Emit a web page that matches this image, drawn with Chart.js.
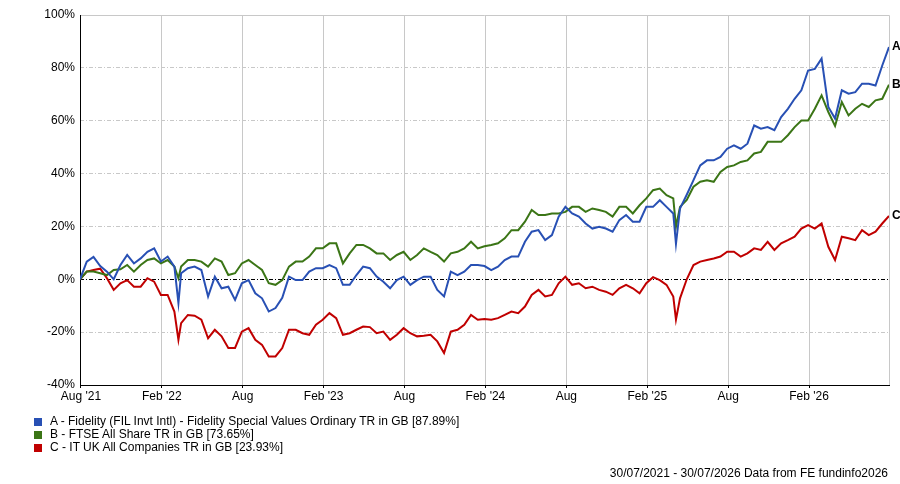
<!DOCTYPE html>
<html>
<head>
<meta charset="utf-8">
<script src="https://cdn.jsdelivr.net/npm/chart.js@4/dist/chart.umd.min.js"></script>
<style>
  body { margin: 0; background: #fff; font-family: "Liberation Sans", Arial, sans-serif; }
  #wrap { position: relative; width: 900px; height: 484px; }
  #chart { position: absolute; left: 0; top: 0; }
  .leg { position: absolute; left: 34px; font-size: 12px; line-height: 13px; color: #000; white-space: nowrap; }
  .leg span { display: inline-block; width: 8px; height: 8px; margin-right: 8px; vertical-align: -1px; }
  #foot { position: absolute; right: 12px; top: 467px; font-size: 12px; line-height: 13px; color: #000; }
</style>
</head>
<body>
<div id="wrap">
  <canvas id="chart" width="900" height="484"></canvas>
  <div class="leg" style="top:415px"><span style="background:#2850b4"></span>A - Fidelity (FIL Invt Intl) - Fidelity Special Values Ordinary TR in GB [87.89%]</div>
  <div class="leg" style="top:428px"><span style="background:#3b7516"></span>B - FTSE All Share TR in GB [73.65%]</div>
  <div class="leg" style="top:441px"><span style="background:#c00000"></span>C - IT UK All Companies TR in GB [23.93%]</div>
  <div id="foot">30/07/2021 - 30/07/2026 Data from FE fundinfo2026</div>
</div>
<script>
// months since 30/07/2021
const months = [
  0, 0.5, 1, 1.5, 2, 2.5, 3, 3.5, 4, 4.5, 5, 5.5,
  6, 6.5, 7, 7.3, 7.5, 8, 8.5, 9, 9.5, 10, 10.5, 11, 11.5,
  12, 12.5, 13, 13.5, 14, 14.5, 15, 15.5, 16, 16.5, 17, 17.5,
  18, 18.5, 19, 19.5, 20, 20.5, 21, 21.5, 22, 22.5, 23, 23.5,
  24, 24.5, 25, 25.5, 26, 26.5, 27, 27.5, 28, 28.5, 29, 29.5,
  30, 30.5, 31, 31.5, 32, 32.5, 33, 33.5, 34, 34.5, 35, 35.5,
  36, 36.5, 37, 37.5, 38, 38.5, 39, 39.5, 40, 40.5, 41, 41.5,
  42, 42.5, 43, 43.5, 44, 44.2, 44.5, 45, 45.5, 46, 46.5, 47, 47.5,
  48, 48.5, 49, 49.5, 50, 50.5, 51, 51.5, 52, 52.5, 53, 53.5,
  54, 54.5, 55, 55.5, 56, 56.5, 57, 57.5, 58, 58.5, 59, 59.5,
  60
];

// A - Fidelity Special Values (%)
const seriesA = [
  0, 6.7, 8.5, 5, 2.9, 0, 5.4, 9.2, 6, 7.9, 10.4, 11.7,
  6.7, 8.6, 4.8, -9, 2.3, 4.2, 4.8, 3.5, -6.5, 1.0, -3.4, -2.8, -7.8,
  -1.5, -0.3, -5.3, -7.2, -12.2, -10.9, -7, 1.0, -0.3, -0.3, 2.9, 4.2,
  4.2, 5.4, 4.2, -2.1, -2.1, 1.6, 4.8, 4.2, 1.0, -0.9, -3.4, -0.3,
  1.0, -2.1, -0.3, 1.0, 1.0, -4.0, -6.5, 2.9, 1.6, 2.9, 5.4, 5.4,
  5, 3.5, 4.8, 7.3, 8.6, 8.6, 14.2, 18.0, 18.6, 14.8, 16.7, 23.7,
  27.4, 24.9, 23.7, 21.1, 19.2, 19.9, 19.2, 18.0, 22.4, 24.3, 21.8, 21.8,
  27.4, 27.4, 29.9, 27.4, 24.9, 13.4, 26.8, 32, 37.5, 43.1, 45.0, 45.0, 46.3,
  49.4, 50.7, 49.4, 51.3, 58.2, 57.0, 57.6, 56.4, 61.4, 64.5, 68.3, 71.5,
  79.0, 79.6, 83.5, 65.2, 60.8, 71.5, 70.2, 70.8, 74.0, 74.0, 73.3, 80.9,
  87.89
];

// B - FTSE All Share (%)
const seriesB = [
  0, 2.9, 2.9, 2.3, 1.6, 3.5, 3.8, 5.4, 2.9, 5.4, 7.3, 7.9,
  6.0, 7.3, 4.8, 0.4, 4.8, 7.3, 7.3, 6.7, 4.8, 7.9, 6.7, 1.6, 2.3,
  6.0, 7.3, 5.4, 3.5, -1.5, -2.1, -0.3, 4.8, 6.7, 6.7, 8.6, 11.7,
  11.7, 13.6, 13.6, 6.0, 9.8, 13.0, 13.0, 11.7, 9.8, 9.8, 7.3, 9.2,
  10.4, 7.3, 9.2, 11.7, 10.4, 9.2, 6.7, 9.8, 10.4, 11.7, 14.2, 11.7,
  12.5, 13.0, 13.6, 15.5, 18.6, 18.6, 21.8, 26.2, 24.3, 24.3, 24.9, 24.9,
  25.5, 27.4, 27.4, 25.5, 26.8, 26.2, 25.5, 23.7, 27.4, 27.4, 24.9, 28.0,
  30.6, 33.7, 34.3, 31.8, 30.6, 19.9, 27.4, 30, 35.0, 36.9, 37.5, 36.9, 40.6,
  42.5, 43.1, 44.4, 45.0, 47.6, 48.2, 52.0, 52.0, 52.0, 54.5, 57.6, 60.1,
  60.1, 64.5, 69.6, 63.3, 58, 67.1, 62.0, 64.5, 66.4, 65.2, 67.7, 68.3,
  73.65
];

// C - IT UK All Companies (%)
const seriesC = [
  0, 2.9, 3.5, 4.0, 0.4, -4.0, -1.5, -0.3, -2.8, -2.8, 0.4, -0.9,
  -5.9, -5.9, -12.2, -22.9, -16.6, -13.5, -13.8, -15.3, -22.3, -19.1, -21.6, -26.0, -26.0,
  -19.8, -18.5, -22.9, -24.8, -29.2, -29.2, -26, -19.1, -19.1, -20.4, -21.0, -17.2,
  -15.3, -12.8, -14.7, -21.0, -20.4, -19.1, -17.9, -18.1, -20.4, -19.8, -22.9, -21.0,
  -18.5, -20.4, -21.6, -21.4, -21.0, -23.5, -27.9, -19.8, -19.1, -17.2, -13.5, -15.3,
  -15, -15.3, -14.7, -13.5, -12.2, -12.8, -10.3, -5.9, -4.0, -6.5, -5.9, -1.5,
  1.0, -2.1, -1.5, -3.4, -2.8, -4.0, -4.7, -5.9, -3.4, -2.1, -3.4, -5.3,
  -1.5, 0.8, -0.3, -2.1, -6.5, -15.3, -7.2, 0, 5.4, 6.7, 7.3, 7.9, 8.6,
  10.4, 10.4, 8.6, 9.8, 11.7, 11.1, 14.2, 11.1, 13.6, 14.8, 16.1, 19.2,
  20.5, 19.2, 21.1, 12.3, 7.3, 16.1, 15.5, 14.8, 18.6, 16.7, 18.0, 21.1,
  23.93
];

const seriesLetters = ['A', 'B', 'C'];
const seriesColors = ['#2850b4', '#3b7516', '#c00000'];

// x axis ticks (1st of Aug / Feb, in months since start)
const tickPos = [0.07, 6.07, 12.07, 18.07, 24.07, 30.07, 36.07, 42.07, 48.07, 54.07];
const tickLabels = ["Aug '21", "Feb '22", "Aug", "Feb '23", "Aug", "Feb '24", "Aug", "Feb '25", "Aug", "Feb '26"];

const FONT = '"Liberation Sans", Arial, sans-serif';

function toPoints(vals) {
  return months.map((m, i) => ({ x: m, y: vals[i] }));
}

// frame: left axis line, top and right grey borders
const framePlugin = {
  id: 'frame',
  beforeDatasetsDraw(chart) {
    const { ctx, chartArea: a } = chart;
    ctx.save();
    ctx.lineWidth = 1;
    ctx.strokeStyle = '#c8c8c8';
    ctx.beginPath();
    ctx.moveTo(a.left, a.top + 0.5);
    ctx.lineTo(a.right + 0.5, a.top + 0.5);
    ctx.lineTo(a.right + 0.5, a.bottom);
    ctx.stroke();
    ctx.strokeStyle = '#000';
    ctx.beginPath();
    ctx.moveTo(a.left + 0.5, a.top);
    ctx.lineTo(a.left + 0.5, a.bottom);
    ctx.stroke();
    ctx.restore();
  }
};

// series letters at line ends
const endLabels = {
  id: 'endLabels',
  afterDatasetsDraw(chart) {
    const ctx = chart.ctx;
    ctx.save();
    ctx.font = 'bold 12px ' + FONT;
    ctx.fillStyle = '#000';
    ctx.textAlign = 'left';
    ctx.textBaseline = 'middle';
    chart.data.datasets.forEach((ds, i) => {
      const pts = chart.getDatasetMeta(i).data;
      const last = pts[pts.length - 1];
      ctx.fillText(seriesLetters[i], last.x + 3, last.y);
    });
    ctx.restore();
  }
};

new Chart(document.getElementById('chart').getContext('2d'), {
  type: 'line',
  data: {
    datasets: [seriesA, seriesB, seriesC].map((s, i) => ({
      label: seriesLetters[i],
      data: toPoints(s),
      borderColor: seriesColors[i],
      borderWidth: 2,
      pointRadius: 0,
      tension: 0,
      fill: false
    }))
  },
  options: {
    responsive: false,
    animation: false,
    layout: { padding: { top: 15, right: 11, bottom: 77, left: 0 } },
    plugins: { legend: { display: false }, tooltip: { enabled: false } },
    scales: {
      x: {
        type: 'linear',
        min: 0,
        max: 60,
        afterBuildTicks: (scale) => { scale.ticks = tickPos.map(v => ({ value: v })); },
        afterFit: (scale) => { scale.height = 22; },
        ticks: {
          autoSkip: false,
          maxRotation: 0,
          padding: 1,
          color: '#000',
          font: { family: FONT, size: 12 },
          callback: (v, i) => tickLabels[i]
        },
        grid: { color: '#c8c8c8', lineWidth: 1, tickColor: '#000', tickLength: 3 },
        border: { color: '#000', width: 1 }
      },
      y: {
        min: -40,
        max: 100,
        afterFit: (scale) => { scale.width = 80; },
        ticks: {
          stepSize: 20,
          padding: 5,
          color: '#000',
          font: { family: FONT, size: 12 },
          callback: (v) => v + '%'
        },
        grid: {
          drawTicks: false,
          lineWidth: 1,
          color: (c) => {
            const v = c.tick ? c.tick.value : null;
            if (v === 0) return '#000';
            if (v === 100 || v === -40) return 'rgba(0,0,0,0)';
            return '#c8c8c8';
          }
        },
        border: { display: false, dash: [4, 2, 1, 2] }
      }
    }
  },
  plugins: [framePlugin, endLabels]
});
</script>
</body>
</html>
